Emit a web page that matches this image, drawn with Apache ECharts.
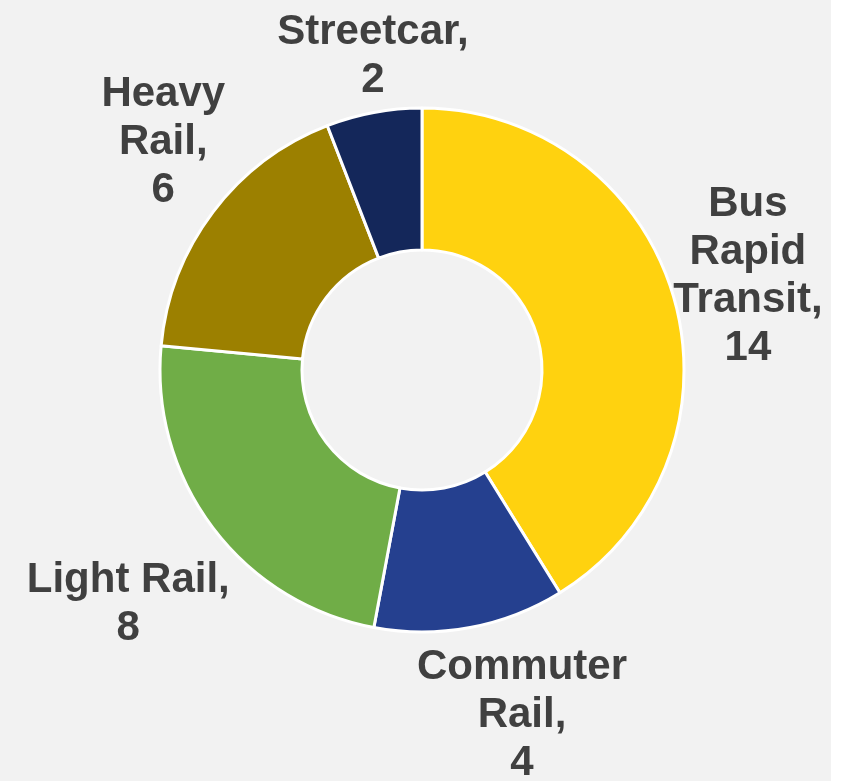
<!DOCTYPE html>
<html>
<head>
<meta charset="utf-8">
<script src="https://cdn.jsdelivr.net/npm/echarts@6/dist/echarts.min.js"></script>
<style>
  html, body { margin: 0; padding: 0; background: #ffffff; }
  #chart { width: 831px; height: 781px; background: #f2f2f2; }
</style>
</head>
<body>
<div id="chart"></div>
<script>
// Data
const categories = ['Bus Rapid Transit', 'Commuter Rail', 'Light Rail', 'Heavy Rail', 'Streetcar'];
const values = [14, 4, 8, 6, 2];
const labelTexts = ['Bus\nRapid\nTransit,', 'Commuter\nRail,', 'Light Rail,', 'Heavy\nRail,', 'Streetcar,'];
const colors = ['#FFD20F', '#25408F', '#70AD47', '#9C8000', '#14275A'];
// label nudges (style, px)
const labelNudge = [[-4, 0], [37, 8], [-20, 28], [15, -21], [14, 24]];

const chart = echarts.init(document.getElementById('chart'), null, { renderer: 'canvas' });

const mainData = categories.map((c, i) => ({ name: c, value: values[i], itemStyle: { color: colors[i] } }));
const ghostData = categories.map((c, i) => ({ name: c, value: values[i] }));

chart.setOption({
  backgroundColor: '#f2f2f2',
  animation: false,
  series: [
    {
      type: 'pie',
      center: [422, 370],
      radius: [120, 262],
      startAngle: 90,
      clockwise: true,
      silent: true,
      label: { show: false },
      labelLine: { show: false },
      itemStyle: { borderColor: '#ffffff', borderWidth: 3 },
      data: mainData
    },
    {
      type: 'pie',
      center: [422, 370],
      radius: [330, 350],
      startAngle: 90,
      clockwise: true,
      silent: true,
      itemStyle: { color: 'rgba(0,0,0,0)', borderWidth: 0 },
      labelLine: { show: false },
      label: {
        show: true,
        position: 'inside',
        rotate: 0,
        color: '#404040',
        fontFamily: 'Liberation Sans, Arial, sans-serif',
        fontWeight: 'bold',
        fontSize: 42,
        lineHeight: 48,
        align: 'center',
        formatter: p => labelTexts[p.dataIndex] + '\n' + p.value
      },
      labelLayout: p => ({ dx: labelNudge[p.dataIndex][0], dy: labelNudge[p.dataIndex][1] }),
      data: ghostData
    }
  ]
});
</script>
</body>
</html>
